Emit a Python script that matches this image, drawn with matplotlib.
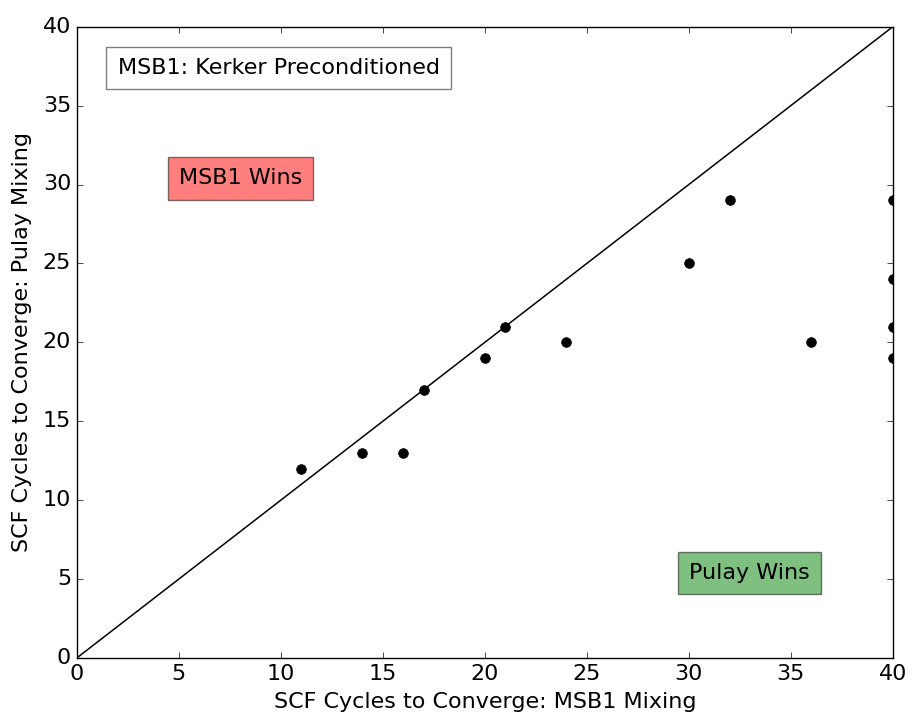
import matplotlib
matplotlib.use("Agg")
import matplotlib.pyplot as plt
import numpy as np

plt.style.use("classic")

# SCF cycles to converge for each test system
msb1_cycles = [11, 14, 16, 17, 20, 21, 24, 30, 32, 36, 40, 40, 40, 40]
pulay_cycles = [12, 13, 13, 17, 19, 21, 20, 25, 29, 20, 29, 24, 21, 19]
lim = [0, 40]

fig = plt.figure(figsize=(9.13, 7.2), dpi=100)
ax = fig.add_axes([0.084, 0.086, 0.894, 0.877])

ax.plot(lim, lim, color="k", lw=1.1)
ax.plot(msb1_cycles, pulay_cycles, "o", color="k", ms=7, mec="k")

ax.set_xlim(lim)
ax.set_ylim(lim)
ax.tick_params(labelsize=16)
ax.set_xlabel("SCF Cycles to Converge: MSB1 Mixing", fontsize=16, labelpad=6)
ax.set_ylabel("SCF Cycles to Converge: Pulay Mixing", fontsize=16, labelpad=8)

ax.text(2, 37, "MSB1: Kerker Preconditioned", fontsize=16,
        bbox=dict(facecolor="white", alpha=0.5, pad=8))
ax.text(5, 30, "MSB1 Wins", fontsize=16,
        bbox=dict(facecolor="red", alpha=0.5, pad=8))
ax.text(30, 5, "Pulay Wins", fontsize=16,
        bbox=dict(facecolor="green", alpha=0.5, pad=8))

fig.savefig("out.png", dpi=100)
